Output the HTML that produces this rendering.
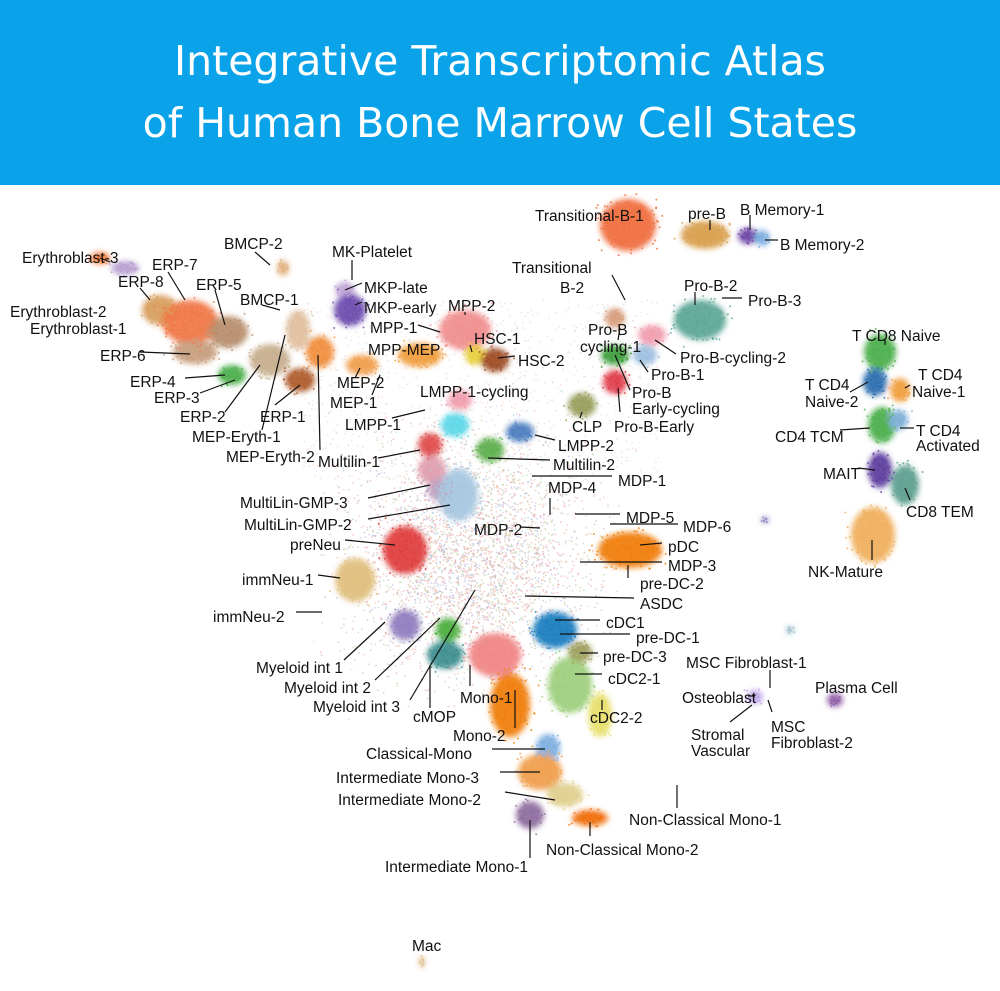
<!DOCTYPE html>
<html><head><meta charset="utf-8">
<style>
html,body{margin:0;padding:0;background:#fff;}
#wrap{width:1000px;height:991px;position:relative;overflow:hidden;}
#hdr{position:absolute;left:0;top:0;width:1000px;height:185px;background:#0aa3ea;color:#fff;
font-family:"DejaVu Sans","Liberation Sans",sans-serif;font-size:41px;text-align:center;line-height:62px;padding-top:30px;box-sizing:border-box;font-weight:normal;}
svg{position:absolute;left:0;top:0;}
text{font-family:"Liberation Sans",Arial,sans-serif;font-size:15.5px;fill:#111;}
</style></head><body><div id="wrap">
<div id="hdr">Integrative Transcriptomic Atlas<br>of Human Bone Marrow Cell States</div>
<svg id="s" width="1000" height="991" viewBox="0 0 1000 991">
<defs><filter id="b" x="-50%" y="-50%" width="200%" height="200%"><feGaussianBlur stdDeviation="3"/></filter></defs>
<g id="scat"></g>
<g id="bg" filter="url(#b)"></g>
<g id="dots"></g>
<g id="lines" stroke="#111" stroke-width="1.2" fill="none"></g>
<g id="labels"></g>
</svg>
</div>
<script>
var C=[
[100,258,10,6,'#f08040'],[125,268,14,7,'#b8a0d0'],[160,310,18,15,'#d8a060'],[190,322,28,22,'#f07848'],[228,332,20,16,'#b89070'],
[195,352,22,12,'#c8a080'],[232,375,14,10,'#50b050'],[270,360,20,16,'#c8b090'],[300,380,15,12,'#b06030'],[320,352,14,16,'#f09040'],
[283,268,6,8,'#e0b080'],[298,330,12,20,'#e0c0a0'],[345,290,10,8,'#c0a8d8'],[350,310,16,16,'#7050b0'],[465,330,26,20,'#f09090'],
[420,355,22,12,'#f0a040'],[475,355,10,10,'#e8d040'],[495,360,14,12,'#a05028'],[362,365,16,10,'#f0a050'],[460,400,12,10,'#f0a0b0'],
[455,425,14,12,'#60d8e8'],[430,445,12,12,'#e05050'],[432,470,14,14,'#e0a0b0'],[440,490,12,12,'#c0a0c0'],[458,495,20,26,'#a8c8e0'],
[490,450,14,12,'#60b050'],[520,432,14,10,'#5080c0'],[405,550,22,24,'#e04040'],[355,580,20,22,'#e0c080'],[405,625,15,15,'#9080c0'],
[448,630,12,12,'#50b040'],[445,655,18,14,'#409090'],[495,655,26,22,'#f08888'],[510,705,20,32,'#f08010'],[570,685,22,28,'#a0d080'],
[600,715,12,22,'#e8e070'],[630,550,32,18,'#f08010'],[555,630,22,18,'#2080c0'],[580,652,12,10,'#a0a060'],[548,748,12,14,'#80b0e0'],
[540,772,22,18,'#f0a050'],[565,795,18,12,'#e0d090'],[530,815,14,14,'#9070a0'],[590,818,18,8,'#f07010'],[628,225,28,26,'#f07040'],
[705,235,24,14,'#d8a050'],[748,236,10,8,'#7048a8'],[762,238,8,8,'#80b0e0'],[700,320,26,20,'#60a898'],[615,318,10,10,'#d8a080'],
[652,335,14,10,'#f0a0b0'],[615,355,14,10,'#40a040'],[645,355,12,10,'#a0c0e0'],[615,382,12,12,'#e04050'],[582,405,14,12,'#98a060'],
[880,352,16,18,'#50b050'],[875,382,12,14,'#3070b0'],[900,390,10,12,'#f0a040'],[882,425,14,18,'#50b050'],[898,420,10,10,'#80b0d8'],
[880,470,12,18,'#6040a0'],[905,485,14,20,'#60a090'],[873,535,22,28,'#f0b060'],[835,700,8,7,'#9060a8'],[755,697,8,7,'#c0a8e8'],
[422,962,3,6,'#e0c090'],[765,520,4,3,'#9080c0'],[790,630,4,4,'#a0c0d0']
];
var seed=7;function r(){seed=(seed*16807)%2147483647;return seed/2147483647;}
function g(){return (r()+r()+r()-1.5)/1.5;}
var ns='http://www.w3.org/2000/svg',bg=document.getElementById('bg'),dt=document.getElementById('dots'),sc=document.getElementById('scat');
var pal=['#e8a0a0','#f0c0a0','#c0b0e0','#a0c0e0','#e0b0c0','#b0d0a0','#f0a0a0','#d0c0a0'];
for(var i=0;i<3500;i++){var x=470+g()*170,y=560+g()*170;var d=document.createElementNS(ns,'circle');d.setAttribute('cx',x);d.setAttribute('cy',y);d.setAttribute('r',0.9);d.setAttribute('fill',pal[i%8]);d.setAttribute('opacity',0.6);sc.appendChild(d);}
for(var i=0;i<900;i++){var x=300+r()*360,y=300+r()*180;var d=document.createElementNS(ns,'circle');d.setAttribute('cx',x);d.setAttribute('cy',y);d.setAttribute('r',0.9);d.setAttribute('fill',pal[i%8]);d.setAttribute('opacity',0.35);sc.appendChild(d);}
C.forEach(function(c){var e=document.createElementNS(ns,'ellipse');e.setAttribute('cx',c[0]);e.setAttribute('cy',c[1]);e.setAttribute('rx',c[2]);e.setAttribute('ry',c[3]);e.setAttribute('fill',c[4]);e.setAttribute('opacity',0.95);bg.appendChild(e);
 var n=Math.round(c[2]*c[3]/4)+4;for(var i=0;i<n;i++){var d=document.createElementNS(ns,'circle');d.setAttribute('cx',c[0]+g()*c[2]*1.5);d.setAttribute('cy',c[1]+g()*c[3]*1.5);d.setAttribute('r',1);d.setAttribute('fill',c[4]);d.setAttribute('opacity',0.8);dt.appendChild(d);}});
var L=[
["Erythroblast-3",22,258,[100,258,110,262]],["ERP-7",152,265,[168,272,185,300]],["ERP-8",118,282,[140,288,150,300]],
["ERP-5",196,285,[215,290,225,325]],["BMCP-2",224,244,[255,252,270,265]],["BMCP-1",240,300,[262,305,280,310]],
["Erythroblast-2",10,312,[]],["Erythroblast-1",30,329,[]],["ERP-6",100,356,[140,352,190,354]],["ERP-4",130,382,[185,378,225,375]],
["ERP-3",154,398,[200,393,235,380]],["ERP-2",180,417,[225,412,260,365]],["ERP-1",260,417,[275,405,300,385]],
["MEP-Eryth-1",192,437,[262,430,285,335]],["MEP-Eryth-2",226,457,[320,450,318,355]],["MK-Platelet",332,252,[352,260,352,280]],
["MKP-late",364,288,[345,290,362,283]],["MKP-early",364,308,[355,305,362,302]],["MPP-2",448,306,[465,312,465,315]],
["MPP-1",370,328,[418,325,440,332]],["MPP-MEP",368,350,[]],["HSC-1",474,339,[470,345,472,352]],["HSC-2",518,361,[498,358,515,356]],
["MEP-2",337,383,[355,378,360,368]],["MEP-1",330,403,[372,395,380,375]],["LMPP-1-cycling",420,392,[]],["LMPP-1",345,425,[392,418,425,410]],
["LMPP-2",558,446,[535,435,555,440]],["Multilin-2",553,465,[488,458,550,460]],["Multilin-1",318,462,[378,458,420,450]],
["MultiLin-GMP-3",240,503,[368,498,430,485]],["MultiLin-GMP-2",244,525,[368,519,450,505]],["MDP-1",618,481,[532,476,612,476]],
["MDP-4",548,488,[550,498,550,515]],["MDP-5",626,518,[575,514,620,514]],["MDP-6",683,527,[610,524,678,524]],
["MDP-2",474,530,[520,527,540,528]],["preNeu",290,545,[345,540,395,545]],["pDC",668,547,[640,545,662,543]],
["MDP-3",668,566,[580,562,662,562]],["pre-DC-2",640,584,[628,565,628,578]],["immNeu-1",242,580,[318,575,340,578]],
["ASDC",640,604,[525,596,634,598]],["immNeu-2",213,617,[296,612,322,612]],["cDC1",606,623,[555,620,600,620]],
["pre-DC-1",636,638,[560,634,630,634]],["pre-DC-3",603,657,[580,653,598,653]],["cDC2-1",608,679,[575,674,602,674]],
["Myeloid int 1",256,668,[344,660,385,622]],["Myeloid int 2",284,688,[375,680,440,618]],["Myeloid int 3",313,707,[410,700,475,590]],
["Mono-1",460,698,[470,686,470,665]],["cMOP",413,717,[430,708,430,665]],["Mono-2",453,736,[515,728,515,690]],
["cDC2-2",590,718,[602,710,602,700]],["Classical-Mono",366,754,[492,749,545,749]],["Intermediate Mono-3",336,778,[500,772,540,772]],
["Intermediate Mono-2",338,800,[505,792,555,800]],["Non-Classical Mono-1",629,820,[677,808,677,785]],
["Non-Classical Mono-2",546,850,[590,836,590,822]],["Intermediate Mono-1",385,867,[530,858,530,820]],["Mac",412,946,[]],
["Transitional-B-1",535,216,[]],["pre-B",688,214,[710,220,710,230]],["B Memory-1",740,210,[750,215,750,230]],["B Memory-2",780,245,[765,240,778,240]],
["Transitional",512,268,[]],["B-2",560,288,[612,275,625,300]],["Pro-B-2",684,286,[695,292,695,305]],["Pro-B-3",748,301,[722,298,742,298]],
["Pro-B",588,330,[]],["cycling-1",580,347,[618,340,620,328]],["Pro-B-cycling-2",680,358,[655,340,676,354]],["Pro-B-1",651,375,[640,360,648,372]],
["Pro-B",632,393,[]],["Early-cycling",632,409,[615,355,630,390]],["CLP",572,427,[580,418,582,412]],["Pro-B-Early",614,427,[618,388,620,412]],
["T CD8 Naive",852,336,[885,340,885,345]],["T CD4",805,385,[]],["Naive-2",805,402,[850,392,868,382]],["T CD4",918,375,[]],
["Naive-1",912,392,[905,388,910,385]],["CD4 TCM",775,437,[840,430,870,428]],["T CD4",916,431,[]],["Activated",916,446,[900,428,914,428]],
["MAIT",823,474,[858,468,875,470]],["CD8 TEM",906,512,[910,500,905,488]],["NK-Mature",808,572,[872,560,872,540]],
["MSC Fibroblast-1",686,663,[770,670,770,688]],["Plasma Cell",815,688,[]],["Osteoblast",682,698,[748,696,755,696]],
["Stromal",691,735,[]],["Vascular",691,751,[730,722,752,705]],["MSC",771,727,[]],["Fibroblast-2",771,743,[772,712,768,700]]
];
var lg=document.getElementById('lines'),lb=document.getElementById('labels');
L.forEach(function(l){var t=document.createElementNS(ns,'text');t.setAttribute('x',l[1]);t.setAttribute('y',l[2]+5);t.textContent=l[0];lb.appendChild(t);
 var p=l[3];if(p.length){var ln=document.createElementNS(ns,'line');ln.setAttribute('x1',p[0]);ln.setAttribute('y1',p[1]);ln.setAttribute('x2',p[2]);ln.setAttribute('y2',p[3]);lg.appendChild(ln);}});
</script>
</body></html>
